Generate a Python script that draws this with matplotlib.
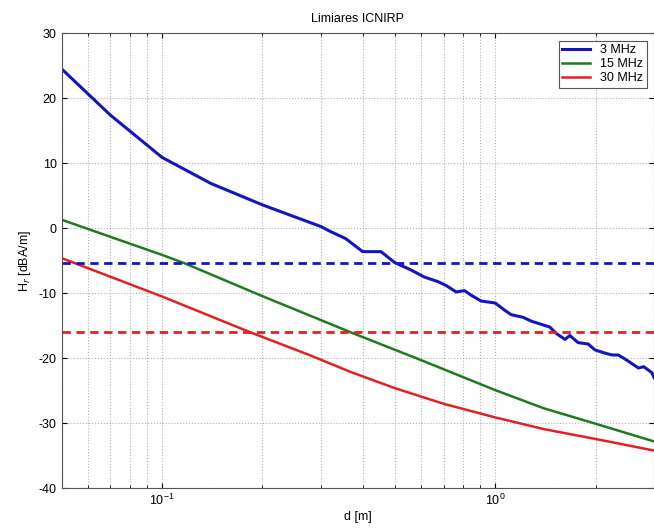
import matplotlib.pyplot as plt
import numpy as np

plt.rcParams['font.family'] = ['Liberation Sans', 'DejaVu Sans']
plt.rcParams['axes.unicode_minus'] = False

# 3 MHz
d_3 = [0.05, 0.07, 0.1, 0.14, 0.2, 0.3, 0.32, 0.356, 0.40, 0.454, 0.50, 0.558,
       0.612, 0.672, 0.712, 0.763, 0.809, 0.847, 0.907, 1.0, 1.067, 1.117,
       1.212, 1.284, 1.458, 1.526, 1.62, 1.674, 1.774, 1.90, 1.99, 2.13,
       2.24, 2.34, 2.45, 2.69, 2.79, 2.95, 3.0]
h_3 = [24.5, 17.4, 10.9, 6.9, 3.6, 0.25, -0.5, -1.6, -3.6, -3.6, -5.3, -6.4,
       -7.5, -8.2, -8.8, -9.8, -9.6, -10.3, -11.2, -11.5, -12.6, -13.3,
       -13.7, -14.3, -15.2, -16.2, -17.1, -16.5, -17.6, -17.8, -18.7, -19.2,
       -19.5, -19.5, -20.1, -21.5, -21.3, -22.2, -23.0]

# 15 MHz
d_15 = [0.05, 0.1, 0.117, 0.197, 0.368, 0.6, 1.0, 1.4, 2.04, 3.0]
h_15 = [1.3, -4.1, -5.4, -10.3, -16.0, -20.3, -24.9, -27.7, -30.2, -32.8]

# 30 MHz
d_30 = [0.05, 0.1, 0.184, 0.28, 0.368, 0.5, 0.7, 1.0, 1.4, 2.04, 3.0]
h_30 = [-4.6, -10.5, -16.0, -19.6, -22.1, -24.6, -27.0, -29.1, -30.9, -32.5, -34.2]

# limiares
lim_3 = -5.4
lim_30 = -16.0

c_blue = '#1515c0'
c_green = '#1f7a1f'
c_red = '#e02222'

fig = plt.figure(figsize=(6.54, 5.28), dpi=100)
ax = fig.add_axes([0.0943, 0.0752, 0.906, 0.862])

ax.semilogx(d_3, h_3, color=c_blue, lw=2.2, label='3 MHz')
ax.semilogx(d_15, h_15, color=c_green, lw=1.8, label='15 MHz')
ax.semilogx(d_30, h_30, color=c_red, lw=1.8, label='30 MHz')
ax.axhline(lim_3, color=c_blue, lw=2, ls=(0, (3, 2)))
ax.axhline(lim_30, color=c_red, lw=2, ls=(0, (3, 2)))

ax.set_xlim(0.05, 3.0)
ax.set_ylim(-40, 30)
ax.set_yticks(np.arange(-40, 31, 10))

ax.grid(True, which='major', ls=':', color='#b0b0b0', lw=0.8)
ax.grid(True, which='minor', axis='x', ls=':', color='#b0b0b0', lw=0.8)
ax.tick_params(which='both', direction='in', labelsize=9, top=True, right=True)
for s in ax.spines.values():
    s.set_color('#555555')

ax.set_title('Limiares ICNIRP', fontsize=9, pad=8)
ax.set_xlabel('d [m]', fontsize=9, labelpad=2)
ax.set_ylabel('H$_r$ [dBA/m]', fontsize=9)

leg = ax.legend(loc='upper right', fontsize=9, fancybox=False, framealpha=1,
                edgecolor='#555555', handlelength=2.2, borderpad=0.3,
                labelspacing=0.15, borderaxespad=0.6)
leg.get_frame().set_linewidth(0.8)

fig.savefig('out.png', dpi=100)
